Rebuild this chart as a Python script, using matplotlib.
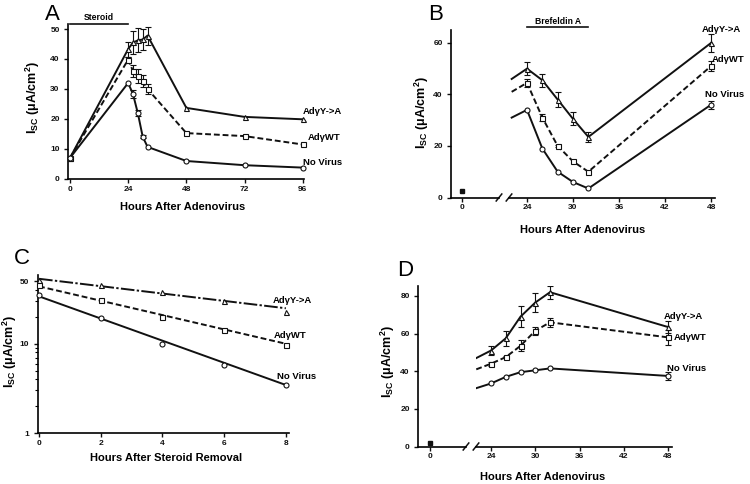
import matplotlib
matplotlib.use("Agg")
import matplotlib.pyplot as plt
import numpy as np

plt.rcParams['font.family'] = ['Liberation Sans', 'DejaVu Sans']
plt.rcParams['font.weight'] = 'bold'
plt.rcParams['mathtext.fontset'] = 'custom'
plt.rcParams['mathtext.rm'] = 'Liberation Sans:bold'
plt.rcParams['mathtext.bf'] = 'Liberation Sans:bold'
plt.rcParams['mathtext.it'] = 'Liberation Sans:bold'

# ---------------- data ----------------
series_names = ["AdγY->A", "AdγWT", "No Virus"]

# Panel A
a_hours = [0, 24, 26, 28, 30, 32, 48, 72, 96]
a_ya = [7, 43.3, 45.5, 46.2, 46.5, 47.8, 23.7, 20.7, 19.9]
a_ya_err = [0, 2.5, 3.8, 4, 3.5, 3, 0, 0, 0]
a_wt = [7, 39.8, 36, 34.2, 32.5, 30, 15.3, 14.3, 11.5]
a_wt_err = [0, 1, 2, 2.3, 2, 1.8, 0, 0, 0]
a_nv = [7, 32, 28.3, 21.9, 14.1, 10.7, 6, 4.6, 3.8]
a_nv_err = [0, 0, 1.3, 1, 0.5, 0, 0, 0, 0]

# Panel B (first point at 22 h is the line start, without marker)
b_hours = [22, 24, 26, 28, 30, 32, 48]
b_ya = [46, 50, 45.5, 38, 30.5, 23.5, 60]
b_ya_err = [0, 2.5, 2.5, 3, 2.5, 2, 3.5]
b_wt = [41, 44.5, 31, 20, 14, 10, 51]
b_wt_err = [0, 1.5, 1.5, 0.5, 0, 0, 2]
b_nv = [31, 34, 19, 10, 6, 3.5, 36]
b_nv_err = [0, 0, 0, 0, 0, 0, 1.5]
b_zero_hour = [0]
b_zero_val = [2.5]

# Panel C (log scale)
c_hours = [0, 2, 4, 6, 8]
c_ya = [52, 45, 38, 30.5, 22.5]
c_wt = [46, 30.7, 19.9, 14.1, 9.7]
c_nv = [35.5, 19.4, 10, 5.8, 3.45]
c_fit_hours = [0, 8]
c_ya_fit = [53.5, 25]
c_wt_fit = [44, 10]
c_nv_fit = [34, 3.45]

# Panel D
d_hours = [22, 24, 26, 28, 30, 32, 48]
d_ya = [47, 51, 57.5, 69, 76.5, 82, 63.5]
d_ya_err = [0, 2.5, 4, 5.5, 5, 3.5, 3]
d_wt = [41, 44, 47.5, 53.5, 61.5, 66, 58]
d_wt_err = [0, 1, 0.5, 3, 2, 2.5, 4]
d_nv = [31, 33.5, 37, 39.5, 40.5, 41.5, 37.5]
d_nv_err = [0, 0, 0, 0, 0, 0, 2]
d_zero_hour = [0]
d_zero_val = [2]

# ---------------- figure ----------------
W, H = 750, 484
fig = plt.figure(figsize=(7.5, 4.84), dpi=100)


def add_ax(left, top, right, bottom):
    return fig.add_axes([left / W, 1 - bottom / H, (right - left) / W, (bottom - top) / H])


def fx(px):
    return px / W


def fy(py):
    return 1 - py / H


K = '#111111'
LW = 1.4
MS = 3.6
TICK_FS = 6
LAB_FS = 8
YLAB_FS = 9
SER_FS = 6.8
LET_FS = 16
styles = {
    "ya": dict(ls='-', marker='^'),
    "wt": dict(ls=(0, (3, 1.5)), marker='s'),
    "nv": dict(ls='-', marker='o'),
}


def style_ax(ax, left=True):
    for s in ['top', 'right']:
        ax.spines[s].set_visible(False)
    ax.spines['bottom'].set_linewidth(1.2)
    ax.spines['left'].set_linewidth(1.2)
    ax.tick_params(axis='both', direction='out', length=3, width=1, labelsize=TICK_FS, colors=K)
    ax.tick_params(axis='x', pad=2)
    ax.tick_params(axis='y', pad=3)
    if not left:
        ax.spines['left'].set_visible(False)
        ax.tick_params(axis='y', left=False, labelleft=False)
    for lbl in ax.get_xticklabels() + ax.get_yticklabels():
        lbl.set_fontweight('bold')


def series(ax, x, y, err, key, markevery=None, ms=MS):
    st = styles[key]
    ax.plot(x, y, color=K, lw=LW, ls=st['ls'], zorder=2)
    xs = x if markevery is None else x[markevery:]
    ys = y if markevery is None else y[markevery:]
    ax.plot(xs, ys, ls='none', marker=st['marker'], ms=ms, mfc='white', mec=K, mew=0.8,
            zorder=3, clip_on=False)
    if err is not None:
        es = err if markevery is None else err[markevery:]
        xe = [a for a, e in zip(xs, es) if e > 0]
        ye = [b for b, e in zip(ys, es) if e > 0]
        ee = [e for e in es if e > 0]
        if xe:
            ax.errorbar(xe, ye, yerr=ee, fmt='none', ecolor=K, elinewidth=0.8, capsize=2.2,
                        capthick=0.8, zorder=2.5)


ylabel_txt = 'I$_{\\mathrm{SC}}$ (μA/cm$^{\\mathrm{2}}$)'

# ---------- Panel A ----------
axA = add_ax(68, 24.5, 304, 179)
axA.set_xlim(-0.8, 96.5)
axA.set_ylim(0, 51.5)
series(axA, a_hours, a_ya, a_ya_err, "ya")
series(axA, a_hours, a_wt, a_wt_err, "wt")
series(axA, a_hours, a_nv, a_nv_err, "nv")
axA.set_xticks([0, 24, 48, 72, 96])
axA.set_yticks([0, 10, 20, 30, 40, 50])
style_ax(axA)
axA.plot([0, 24], [51.7, 51.7], color=K, lw=1.2, clip_on=False)
axA.text(12, 53.8, "Steroid", ha='center', va='center', fontsize=6.2, fontweight='bold')
axA.text(96, 22.5, series_names[0], fontsize=SER_FS, fontweight='bold', va='center', ha='left')
axA.text(98, 13.8, series_names[1], fontsize=SER_FS, fontweight='bold', va='center', ha='left')
axA.text(96, 5.6, series_names[2], fontsize=SER_FS, fontweight='bold', va='center', ha='left')
axA.set_xlabel("Hours After Adenovirus", fontsize=LAB_FS, fontweight='bold', va='center')
axA.xaxis.set_label_coords(fx(183), fy(207), transform=fig.transFigure)
axA.set_ylabel(ylabel_txt, fontsize=YLAB_FS, fontweight='bold', va='center')
axA.yaxis.set_label_coords(fx(33), fy(98), transform=fig.transFigure)
fig.text(fx(45), fy(15), "A", fontsize=LET_FS, fontweight='normal', ha='left', va='center')


def broken(top, bottom, l_left, l_right, r_left, r_right, zero_px, px_per_h, h24_px,
           ymax, yticks):
    axl = add_ax(l_left, top, l_right, bottom)
    axr = add_ax(r_left, top, r_right, bottom)
    axl.set_xlim(-(zero_px - l_left) / px_per_h, (l_right - zero_px) / px_per_h)
    axr.set_xlim(24 - (h24_px - r_left) / px_per_h, 24 + (r_right - h24_px) / px_per_h)
    for a in (axl, axr):
        a.set_ylim(0, ymax)
    axl.set_xticks([0])
    axl.set_yticks(yticks)
    axr.set_xticks([24, 30, 36, 42, 48])
    style_ax(axl)
    style_ax(axr, left=False)
    # break marks
    for a, xa in ((axl, 1.0), (axr, 0.0)):
        wpx = (l_right - l_left) if a is axl else (r_right - r_left)
        hpx = bottom - top
        dx = 2.8 / wpx
        dy = 3.5 / hpx
        a.plot([xa - dx, xa + dx], [-dy, dy], transform=a.transAxes, color=K, lw=1.1, clip_on=False)
    return axl, axr


# ---------- Panel B ----------
axBl, axBr = broken(top=30, bottom=197.5, l_left=451, l_right=499, r_left=509, r_right=715,
                    zero_px=462, px_per_h=7.67, h24_px=527, ymax=65, yticks=[0, 20, 40, 60])
axBl.plot(b_zero_hour, b_zero_val, ls='none', marker='s', ms=3, color=K)
series(axBr, b_hours, b_ya, b_ya_err, "ya", markevery=1)
series(axBr, b_hours, b_wt, b_wt_err, "wt", markevery=1)
series(axBr, b_hours, b_nv, b_nv_err, "nv", markevery=1)
axBr.plot([24, 32], [66.0, 66.0], color=K, lw=1.2, clip_on=False)
axBr.text(28, 68.4, "Brefeldin A", ha='center', va='center', fontsize=6.2, fontweight='bold')
axBr.text(46.8, 65, series_names[0], fontsize=SER_FS, fontweight='bold', va='center', ha='left')
axBr.text(48.1, 53.4, series_names[1], fontsize=SER_FS, fontweight='bold', va='center', ha='left')
axBr.text(47.2, 40.1, series_names[2], fontsize=SER_FS, fontweight='bold', va='center', ha='left')
axBr.set_xlabel("Hours After Adenovirus", fontsize=LAB_FS, fontweight='bold', va='center')
axBr.xaxis.set_label_coords(fx(583), fy(230), transform=fig.transFigure)
axBl.set_ylabel(ylabel_txt, fontsize=YLAB_FS, fontweight='bold', va='center')
axBl.yaxis.set_label_coords(fx(422), fy(113), transform=fig.transFigure)
fig.text(fx(428), fy(15), "B", fontsize=LET_FS, fontweight='normal', ha='left', va='center')

# ---------- Panel C ----------
axC = add_ax(37.5, 275, 289, 433)
axC.set_yscale('log')
axC.set_xlim(-0.05, 8.1)
axC.set_ylim(1, 59)
for key, yv, fit in (("ya", c_ya, c_ya_fit), ("wt", c_wt, c_wt_fit), ("nv", c_nv, c_nv_fit)):
    ls = (0, (7, 1.2, 1.2, 1.2)) if key == "ya" else styles[key]['ls']
    axC.plot(c_fit_hours, fit, color=K, lw=LW, ls=ls, zorder=2)
    axC.plot(c_hours, yv, ls='none', marker=styles[key]['marker'], ms=MS, mfc='white',
             mec=K, mew=0.8, zorder=3, clip_on=False)
axC.set_xticks([0, 2, 4, 6, 8])
axC.set_yticks([1, 10, 50])
axC.set_yticklabels(["1", "10", "50"])
axC.yaxis.set_minor_locator(matplotlib.ticker.LogLocator(base=10, subs=np.arange(2, 10)))
axC.yaxis.set_minor_formatter(matplotlib.ticker.NullFormatter())
style_ax(axC)
axC.tick_params(axis='y', which='minor', direction='out', length=2, width=0.8)
axC.text(7.58, 30.4, series_names[0], fontsize=SER_FS, fontweight='bold', va='center', ha='left')
axC.text(7.61, 12.3, series_names[1], fontsize=SER_FS, fontweight='bold', va='center', ha='left')
axC.text(7.71, 4.26, series_names[2], fontsize=SER_FS, fontweight='bold', va='center', ha='left')
axC.set_xlabel("Hours After Steroid Removal", fontsize=LAB_FS, fontweight='bold', va='center')
axC.xaxis.set_label_coords(fx(166), fy(458), transform=fig.transFigure)
axC.set_ylabel(ylabel_txt, fontsize=YLAB_FS, fontweight='bold', va='center')
axC.yaxis.set_label_coords(fx(10), fy(352), transform=fig.transFigure)
fig.text(fx(14), fy(259), "C", fontsize=LET_FS, fontweight='normal', ha='left', va='center')

# ---------- Panel D ----------
axDl, axDr = broken(top=286, bottom=446.5, l_left=418, l_right=466, r_left=476, r_right=672,
                    zero_px=430, px_per_h=7.375, h24_px=491, ymax=85.3, yticks=[0, 20, 40, 60, 80])
axDl.plot(d_zero_hour, d_zero_val, ls='none', marker='s', ms=3, color=K)
series(axDr, d_hours, d_ya, d_ya_err, "ya", markevery=1)
series(axDr, d_hours, d_wt, d_wt_err, "wt", markevery=1)
series(axDr, d_hours, d_nv, d_nv_err, "nv", markevery=1)
axDr.text(47.46, 69.3, series_names[0], fontsize=SER_FS, fontweight='bold', va='center', ha='left')
axDr.text(48.8, 58.1, series_names[1], fontsize=SER_FS, fontweight='bold', va='center', ha='left')
axDr.text(47.9, 41.6, series_names[2], fontsize=SER_FS, fontweight='bold', va='center', ha='left')
axDr.set_xlabel("Hours After Adenovirus", fontsize=LAB_FS, fontweight='bold', va='center')
axDr.xaxis.set_label_coords(fx(543), fy(477), transform=fig.transFigure)
axDl.set_ylabel(ylabel_txt, fontsize=YLAB_FS, fontweight='bold', va='center')
axDl.yaxis.set_label_coords(fx(388), fy(362), transform=fig.transFigure)
fig.text(fx(397), fy(271), "D", fontsize=LET_FS, fontweight='normal', ha='left', va='center')

fig.savefig("out.png", dpi=100, facecolor='white')
